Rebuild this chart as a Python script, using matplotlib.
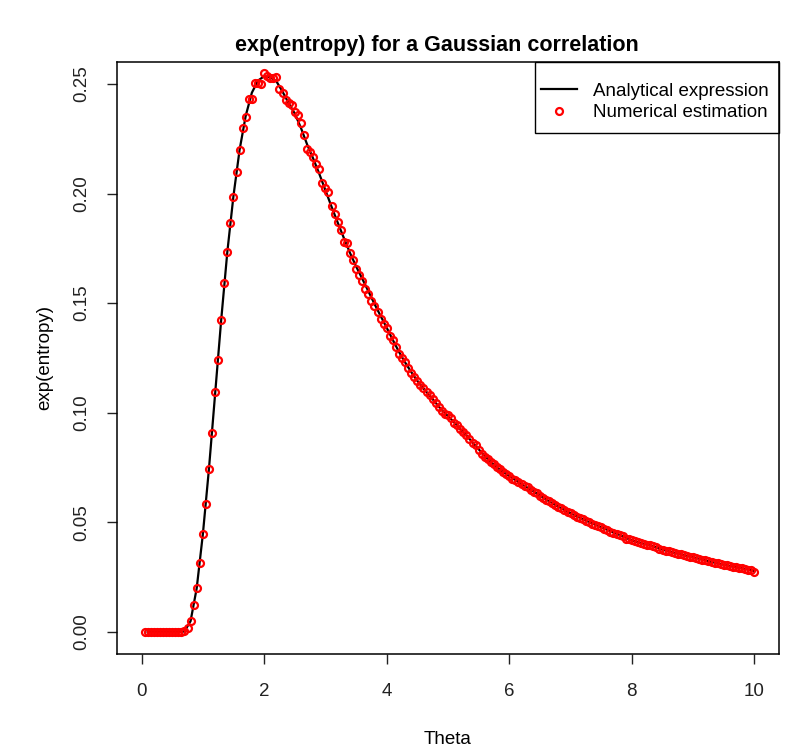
import numpy as np
import matplotlib
matplotlib.use("Agg")
import matplotlib.pyplot as plt
from matplotlib.patches import Rectangle

plt.rcParams['font.family'] = ['Liberation Sans', 'DejaVu Sans']

# grid of theta values (step 0.05) for the numerical estimate
theta_num = np.linspace(0.05, 10, 200)
num_est = [
    0, 0, 0, 0, 0, 0, 0, 0, 0, 0,
    0, 0.0001, 0.0002, 0.0006, 0.0018, 0.0049, 0.0124, 0.0202, 0.0315, 0.0446,
    0.0584, 0.0745, 0.0906, 0.1094, 0.1243, 0.1425, 0.1590, 0.1734, 0.1865, 0.1985,
    0.2100, 0.2198, 0.2297, 0.2347, 0.2429, 0.2432, 0.2502, 0.2505, 0.2499, 0.2548,
    0.2538, 0.2525, 0.2529, 0.2531, 0.2478, 0.2457, 0.2427, 0.2415, 0.2404, 0.2373,
    0.2358, 0.2323, 0.2267, 0.2202, 0.2191, 0.2168, 0.2135, 0.2111, 0.2047, 0.2024,
    0.2009, 0.1944, 0.1905, 0.1872, 0.1834, 0.1781, 0.1776, 0.1731, 0.1698, 0.1655,
    0.1628, 0.1600, 0.1565, 0.1540, 0.1510, 0.1485, 0.1458, 0.1428, 0.1405, 0.1388,
    0.1352, 0.1330, 0.1300, 0.1268, 0.1250, 0.1232, 0.1205, 0.1183, 0.1165, 0.1146,
    0.1125, 0.1112, 0.1095, 0.1080, 0.1062, 0.1045, 0.1028, 0.1008, 0.0995, 0.0988,
    0.0975, 0.0955, 0.0945, 0.0925, 0.0912, 0.0898, 0.0880, 0.0862, 0.0852, 0.0832,
    0.0810, 0.0800, 0.0788, 0.0776, 0.0765, 0.0752, 0.0742, 0.0728, 0.0722, 0.0711,
    0.0700, 0.0694, 0.0684, 0.0674, 0.0666, 0.0660, 0.0648, 0.0640, 0.0634, 0.0622,
    0.0612, 0.0604, 0.0597, 0.0588, 0.0580, 0.0571, 0.0566, 0.0556, 0.0549, 0.0542,
    0.0536, 0.0527, 0.0522, 0.0514, 0.0507, 0.0503, 0.0495, 0.0489, 0.0485, 0.0478,
    0.0471, 0.0466, 0.0458, 0.0454, 0.0447, 0.0443, 0.0436, 0.0426, 0.0423, 0.0418,
    0.0414, 0.0409, 0.0406, 0.0402, 0.0398, 0.0395, 0.0391, 0.0386, 0.0381, 0.0376,
    0.0371, 0.0368, 0.0364, 0.0361, 0.0357, 0.0354, 0.0350, 0.0347, 0.0344, 0.0341,
    0.0339, 0.0334, 0.0330, 0.0327, 0.0323, 0.0320, 0.0317, 0.0313, 0.0309, 0.0307,
    0.0304, 0.0301, 0.0299, 0.0296, 0.0293, 0.0291, 0.0289, 0.0285, 0.0281, 0.0275,
]

# analytical curve on a step 0.1 grid
theta_ana = np.linspace(0.1, 10, 100)
ana_expr = [
    0, 0, 0, 0, 0, 0, 0.0003, 0.0050, 0.0200, 0.0445,
    0.0745, 0.1085, 0.1425, 0.1735, 0.1990, 0.2200, 0.2355, 0.2460, 0.2515, 0.2535,
    0.2530, 0.2512, 0.2465, 0.2412, 0.2365, 0.2300, 0.2225, 0.2160, 0.2090, 0.2015,
    0.1940, 0.1868, 0.1798, 0.1730, 0.1668, 0.1612, 0.1555, 0.1497, 0.1442, 0.1388,
    0.1332, 0.1278, 0.1230, 0.1186, 0.1146, 0.1111, 0.1079, 0.1045, 0.1012, 0.0985,
    0.0957, 0.0926, 0.0897, 0.0865, 0.0834, 0.0802, 0.0776, 0.0752, 0.0730, 0.0711,
    0.0693, 0.0675, 0.0658, 0.0641, 0.0623, 0.0605, 0.0588, 0.0572, 0.0557, 0.0542,
    0.0528, 0.0515, 0.0502, 0.0490, 0.0478, 0.0466, 0.0454, 0.0443, 0.0430, 0.0418,
    0.0410, 0.0402, 0.0395, 0.0386, 0.0376, 0.0368, 0.0361, 0.0354, 0.0347, 0.0341,
    0.0334, 0.0327, 0.0320, 0.0313, 0.0307, 0.0301, 0.0296, 0.0291, 0.0285, 0.0278,
]

x_ticks = [0, 2, 4, 6, 8, 10]
y_ticks = [0.00, 0.05, 0.10, 0.15, 0.20, 0.25]

fig = plt.figure(figsize=(7.87, 7.47), dpi=100)
ax = fig.add_axes([0.1487, 0.1245, 0.8411, 0.7925])

ax.plot(theta_ana, ana_expr, color='black', lw=1.6, label='Analytical expression')
ax.plot(theta_num, num_est, ls='none', marker='o', ms=5, mfc='none',
        mec='red', mew=1.6, label='Numerical estimation')

ax.set_xlim(-0.4, 10.4)
ax.set_ylim(-0.01, 0.26)
ax.set_xticks(x_ticks)
ax.set_xticklabels([str(t) for t in x_ticks])
ax.set_yticks(y_ticks)
ax.set_yticklabels(['%.2f' % t for t in y_ticks], rotation=90, va='center')
ax.tick_params(length=7, width=1, labelsize=13.5, colors='#222222')
ax.tick_params(axis='x', pad=14)
ax.tick_params(axis='y', pad=12)
for s in ax.spines.values():
    s.set_linewidth(1.1)

ax.set_title('exp(entropy) for a Gaussian correlation', fontsize=15.5,
             fontweight='bold', pad=8, x=0.483)
ax.set_xlabel('Theta', fontsize=13.5, labelpad=22)
ax.set_ylabel('exp(entropy)', fontsize=13.5, labelpad=15)

# legend box in the upper right corner, R style
leg = ax.legend(loc='upper left', bbox_to_anchor=(0.632, 0.975), frameon=False,
                fontsize=13.5, handlelength=1.9, handletextpad=0.85,
                borderpad=0.3, labelspacing=0.24, borderaxespad=0)
ax.add_patch(Rectangle((0.631, 0.88), 0.369, 0.12, transform=ax.transAxes,
                       fill=False, edgecolor='black', lw=1.0, zorder=5,
                       clip_on=False))

fig.savefig('out.png', dpi=100)
